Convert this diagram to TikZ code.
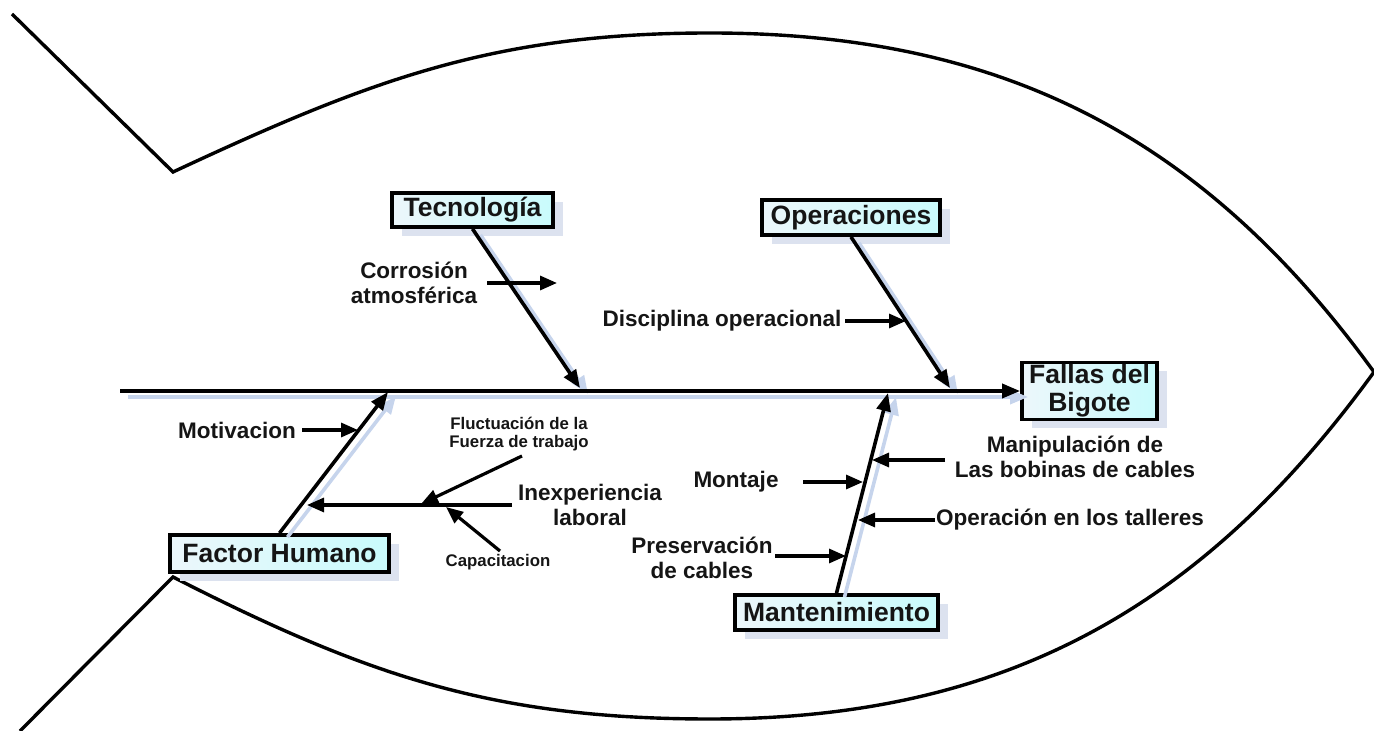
\documentclass[tikz,border=0pt]{standalone}
\usepackage{fontspec}
\setmainfont{Liberation Sans}
\usetikzlibrary{arrows.meta,shadows}
\definecolor{shd}{HTML}{C6D4EC}
\definecolor{boxshd}{HTML}{DCE2EF}
\definecolor{boxL}{HTML}{ECF7FB}
\definecolor{boxR}{HTML}{C9FBFC}
\definecolor{txt}{HTML}{151515}
\tikzset{
  fish/.style={line width=3.4pt, line join=miter},
  catbox/.style={draw=black, line width=3.8pt, left color=boxL, right color=boxR, text=txt,
    font=\fontsize{26.5}{28}\selectfont\bfseries, inner sep=0pt, align=center,
    drop shadow={shadow xshift=10pt, shadow yshift=-9pt, fill=boxshd, opacity=1}},
  lab/.style={font=\fontsize{22.5}{25}\selectfont\bfseries, text=txt, align=center, inner sep=0pt},
  smalllab/.style={font=\fontsize{16.8}{18.5}\selectfont\bfseries, text=txt, align=center, inner sep=0pt},
  bone/.style={line width=3.6pt, -{Triangle[length=18pt,width=14pt]}},
  boneshd/.style={bone, draw=shd, fill=shd},
  subarrow/.style={line width=3.2pt, -{Triangle[length=17pt,width=14pt]}}
}
\begin{document}
\begin{tikzpicture}[x=1pt,y=1pt]
\useasboundingbox (0,0) rectangle (1374,731);
% fish outline
\draw[fish] (12,717) -- (173,559) to[out=25,in=180] (710,698) to[out=0,in=126] (1374,359)
  to[out=-126,in=0] (710,12) to[out=180,in=-27] (173,154) -- (20,0);

% category boxes
\node[catbox, minimum width=161pt, minimum height=34pt] (tec) at (472.5,521) {Tecnología};
\node[catbox, minimum width=178pt, minimum height=35pt] (ope) at (851,513.5) {Operaciones};
\node[catbox, minimum width=219pt, minimum height=37pt] (fh) at (279.5,177.5) {Factor Humano};
\node[catbox, minimum width=203pt, minimum height=35pt] (man) at (836.5,118.5) {Mantenimiento};
\node[catbox, minimum width=135pt, minimum height=57pt] (fal) at (1089.5,340) {Fallas del\\Bigote};

% spine and branch end points
\coordinate (sL) at (120,340);
\coordinate (tE) at (580,343);
\coordinate (oE) at (950,343);
\coordinate (fE) at (388,339);
\coordinate (mE) at (888,338);

% shadows of spine and bones
\draw[boneshd] ([shift={(8,-6)}]sL) -- ([shift={(8,-6)}]sL -| fal.west);
\draw[boneshd] ([shift={(8,-6)}]tec.south) -- ([shift={(8,-6)}]tE);
\draw[boneshd] ([shift={(8,-6)}]ope.south) -- ([shift={(8,-6)}]oE);
\draw[boneshd] ([shift={(8,-4)}]fh.north) -- ([shift={(8,-4)}]fE);
\draw[boneshd] ([shift={(8,-4)}]man.north) -- ([shift={(8,-4)}]mE);

% spine and bones
\draw[bone] (sL) -- (sL -| fal.west);
\draw[bone] (tec.south) -- (tE);
\draw[bone] (ope.south) -- (oE);
\draw[bone] (fh.north) -- (fE);
\draw[bone] (man.north) -- (mE);

% cause labels
\node[lab] (corr) at (414,448) {Corrosión\\atmosférica};
\node[lab] (disc) at (722,410) {Disciplina operacional};
\node[lab] (moti) at (237,301) {Motivacion};
\node[lab] (inex) at (590,226) {Inexperiencia\\laboral};
\node[smalllab] (fluc) at (519,297) {Fluctuación de la\\Fuerza de trabajo};
\node[smalllab] (capa) at (498,169) {Capacitacion};
\node[lab] (mont) at (736,249) {Montaje};
\node[lab] (mani) at (1075,274.5) {Manipulación de\\Las bobinas de cables};
\node[lab] (oper) at (1070,211) {Operación en los talleres};
\node[lab] (pres) at (702,173.5) {Preservación\\de cables};

% sub-arrow coordinates
\coordinate (corrA) at (487,448);  \coordinate (corrB) at (557,448);
\coordinate (discA) at (845,410);  \coordinate (discB) at (906,410);
\coordinate (motiA) at (302,301);  \coordinate (motiB) at (358,301);
\coordinate (inexA) at (512,226);  \coordinate (inexB) at (307,226);
\coordinate (flucA) at (522,275);  \coordinate (flucB) at (421,227);
\coordinate (capaA) at (500,180);  \coordinate (capaB) at (446,224);
\coordinate (montA) at (803,249);  \coordinate (montB) at (863,249);
\coordinate (maniA) at (945,271);  \coordinate (maniB) at (872,271);
\coordinate (operA) at (935,211);  \coordinate (operB) at (858,211);
\coordinate (presA) at (775,175);  \coordinate (presB) at (846,175);

\draw[subarrow] (corrA) -- (corrB);
\draw[subarrow] (discA) -- (discB);
\draw[subarrow] (motiA) -- (motiB);
\draw[subarrow] (inexA) -- (inexB);
\draw[subarrow] (flucA) -- (flucB);
\draw[subarrow] (capaA) -- (capaB);
\draw[subarrow] (montA) -- (montB);
\draw[subarrow] (maniA) -- (maniB);
\draw[subarrow] (operA) -- (operB);
\draw[subarrow] (presA) -- (presB);
\end{tikzpicture}
\end{document}
